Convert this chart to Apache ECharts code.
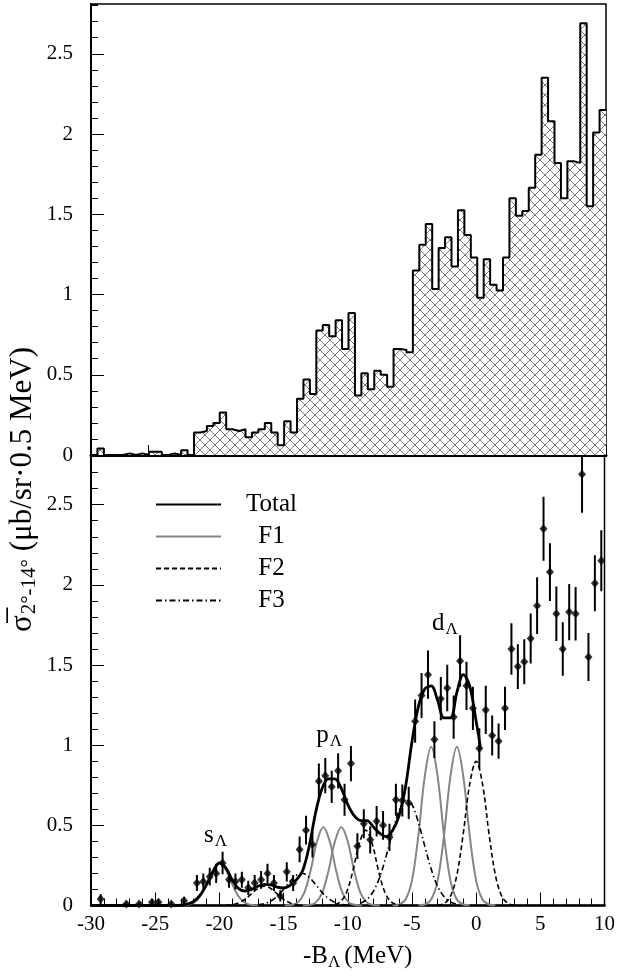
<!DOCTYPE html>
<html><head><meta charset="utf-8">
<script src="https://cdn.jsdelivr.net/npm/echarts@6/dist/echarts.min.js"></script>
<style>html,body{margin:0;padding:0;background:#fff}#c{width:618px;height:977px}</style>
</head><body><div id="c"></div>
<script>
// ---- data ----
const binCenters = [-29.75,-29.25,-28.75,-28.25,-27.75,-27.25,-26.75,-26.25,-25.75,-25.25,
 -24.75,-24.25,-23.75,-23.25,-22.75,-22.25,-21.75,-21.25,-20.75,-20.25,
 -19.75,-19.25,-18.75,-18.25,-17.75,-17.25,-16.75,-16.25,-15.75,-15.25,
 -14.75,-14.25,-13.75,-13.25,-12.75,-12.25,-11.75,-11.25,-10.75,-10.25,
 -9.75,-9.25,-8.75,-8.25,-7.75,-7.25,-6.75,-6.25,-5.75,-5.25,
 -4.75,-4.25,-3.75,-3.25,-2.75,-2.25,-1.75,-1.25,-0.75,-0.25,
 0.25,0.75,1.25,1.75,2.25,2.75,3.25,3.75,4.25,4.75,
 5.25,5.75,6.25,6.75,7.25,7.75,8.25,8.75,9.25,9.75];
const counts = [0,0.04,0,0,0,0.01,0,0.01,0,0.02,
 0.02,0,0.01,0,0.03,0,0.14,0.15,0.18,0.2,
 0.265,0.16,0.15,0.16,0.11,0.14,0.16,0.2,0.14,0.06,
 0.21,0.14,0.35,0.47,0.38,0.775,0.81,0.74,0.84,0.66,
 0.885,0.37,0.51,0.41,0.525,0.5,0.425,0.66,0.655,0.64,
 1.15,1.31,1.44,1.035,1.29,1.356,1.175,1.525,1.37,1.23,
 0.98,1.22,1.06,1.025,1.23,1.6,1.49,1.52,1.665,1.87,
 2.35,2.08,1.82,1.6,1.83,1.82,2.69,1.55,2.01,2.15];
const errors = [0,0.03,0,0,0,0.01,0,0.01,0,0.02,
 0.02,0,0.01,0,0.025,0,0.05,0.05,0.055,0.06,
 0.07,0.05,0.05,0.05,0.045,0.05,0.055,0.06,0.05,0.035,
 0.06,0.05,0.08,0.09,0.08,0.11,0.11,0.1,0.11,0.1,
 0.11,0.08,0.09,0.085,0.095,0.09,0.085,0.1,0.1,0.1,
 0.135,0.14,0.15,0.115,0.135,0.145,0.135,0.16,0.15,0.135,
 0.125,0.15,0.125,0.11,0.135,0.16,0.14,0.14,0.156,0.177,
 0.2,0.18,0.17,0.167,0.175,0.167,0.24,0.15,0.175,0.19];

const totalCurve = [[-30,0],[-24,0],[-23.5,0],[-23,0.002],[-22.5,0.008],[-22,0.025],[-21.5,0.065],[-21,0.13],
 [-20.5,0.21],[-20,0.265],[-19.5,0.235],[-19,0.16],[-18.5,0.105],[-18,0.09],[-17.5,0.1],[-17,0.12],
 [-16.5,0.132],[-16,0.128],[-15.5,0.115],[-15,0.11],[-14.5,0.125],[-14,0.16],[-13.5,0.22],[-13,0.37],
 [-12.5,0.58],[-12,0.73],[-11.5,0.79],[-11,0.79],[-10.5,0.73],[-10,0.63],[-9.5,0.56],[-9,0.53],
 [-8.5,0.53],[-8,0.49],[-7.5,0.45],[-7,0.43],[-6.5,0.47],[-6,0.56],[-5.5,0.74],[-5,1.02],
 [-4.5,1.24],[-4,1.35],[-3.5,1.37],[-3,1.28],[-2.5,1.17],[-2,1.17],[-1.5,1.33],[-1,1.44],
 [-0.5,1.37],[0,1.15],[0.35,0.98]];

// F1 components (grey): s, p1, p2, d1, d2
const f1S  = [[-23,0.001],[-22.5,0.003],[-22,0.017],[-21.5,0.056],[-21,0.133],[-20.5,0.223],[-20,0.265],[-19.5,0.223],[-19,0.133],[-18.5,0.056],[-18,0.017],[-17.5,0.003],[-17,0.001]];
const f1P1 = [[-14.9,0],[-14.4,0.003],[-13.9,0.018],[-13.4,0.077],[-12.9,0.216],[-12.4,0.399],[-11.9,0.49],[-11.4,0.399],[-10.9,0.216],[-10.4,0.077],[-9.9,0.018],[-9.4,0.003],[-8.9,0]];
const f1P2 = [[-13.5,0],[-13,0.003],[-12.5,0.018],[-12,0.077],[-11.5,0.216],[-11,0.399],[-10.5,0.49],[-10,0.399],[-9.5,0.216],[-9,0.077],[-8.5,0.018],[-8,0.003],[-7.5,0]];
const f1D1 = [[-6.5,0.001],[-6,0.006],[-5.5,0.037],[-5,0.155],[-4.5,0.436],[-4,0.806],[-3.5,0.99],[-3,0.806],[-2.5,0.436],[-2,0.155],[-1.5,0.037],[-1,0.006],[-0.5,0.001]];
const f1D2 = [[-4.5,0.001],[-4,0.006],[-3.5,0.037],[-3,0.155],[-2.5,0.436],[-2,0.806],[-1.5,0.99],[-1,0.806],[-0.5,0.436],[0,0.155],[0.5,0.037],[1,0.006],[1.5,0.001]];
// F2 components (dashed)
const f2A = [[-19.5,0.001],[-19,0.005],[-18.5,0.016],[-18,0.039],[-17.5,0.073],[-17,0.106],[-16.5,0.12],[-16,0.106],[-15.5,0.073],[-15,0.039],[-14.5,0.016],[-14,0.005],[-13.5,0.001]];
const f2B = [[-11.6,0],[-11.1,0.004],[-10.6,0.021],[-10.1,0.081],[-9.6,0.215],[-9.1,0.387],[-8.6,0.47],[-8.1,0.387],[-7.6,0.215],[-7.1,0.081],[-6.6,0.021],[-6.1,0.004],[-5.6,0]];
const f2C = [[-3,0.002],[-2.5,0.012],[-2,0.057],[-1.5,0.19],[-1,0.45],[-0.5,0.757],[0,0.9],[0.5,0.757],[1,0.45],[1.5,0.19],[2,0.057],[2.5,0.012],[3,0.002]];
// F3 components (dash-dot)
const f3A = [[-17,0.004],[-16.5,0.011],[-16,0.027],[-15.5,0.057],[-15,0.101],[-14.5,0.151],[-14,0.189],[-13.5,0.2],[-13,0.176],[-12.5,0.131],[-12,0.082],[-11.5,0.043],[-11,0.019],[-10.5,0.007],[-10,0.002]];
const f3B = [[-9,0.014],[-8.5,0.038],[-8,0.089],[-7.5,0.179],[-7,0.31],[-6.5,0.461],[-6,0.593],[-5.5,0.658],[-5,0.63],[-4.5,0.519],[-4,0.37],[-3.5,0.227],[-3,0.12],[-2.5,0.055],[-2,0.022],[-1.5,0.007]];

const xTickLabels = ['-30','-25','-20','-15','-10','-5','0','5','10'];
const peakLabels = [{t:'s', x:-21.2, y:0.38},{t:'p', x:-12.45, y:1.0},{t:'d', x:-3.44, y:1.70}];

// ---- build ----
const SERIF = 'Liberation Serif';
const chart = echarts.init(document.getElementById('c'));

const hatch = document.createElement('canvas');
hatch.width = 10; hatch.height = 10;
(function(){const g = hatch.getContext('2d'); g.fillStyle='#fff'; g.fillRect(0,0,10,10);
 g.strokeStyle='#6a6a6a'; g.lineWidth=0.9; g.beginPath();
 g.moveTo(0,0); g.lineTo(10,10); g.moveTo(10,0); g.lineTo(0,10); g.stroke();})();

const histData = binCenters.map((c,i)=>[c-0.25, counts[i]]);
histData.push([10, counts[counts.length-1]]);
const pts = [];
binCenters.forEach((c,i)=>{ if(counts[i]>0) pts.push([c, counts[i], errors[i]]); });

const black = '#000';
function yMajor(gi){return {gridIndex:gi, type:'value', min:0, max:2.81, interval:0.5, position:'left',
  axisLine:{show:true, onZero:false, lineStyle:{color:black,width:2}},
  axisTick:{show:true, inside:true, length:13, lineStyle:{color:black,width:1}},
  axisLabel:{showMaxLabel:false, fontFamily:SERIF, fontSize:21, color:black, margin:18},
  splitLine:{show:false}};}
function yMinor(gi){return {gridIndex:gi, type:'value', min:0, max:2.81, interval:0.1, position:'left', offset:0,
  axisLine:{show:false, onZero:false}, axisTick:{show:true, inside:true, length:7, lineStyle:{color:black,width:1}},
  axisLabel:{show:false}, splitLine:{show:false}};}

const grey = '#858585';
function comp(name, data, style){return {name, type:'line', xAxisIndex:1, yAxisIndex:2, data, smooth:0.35,
  symbol:'none', lineStyle:style, itemStyle:{color:style.color}, z:3, silent:true};}

const option = {
  animation:false,
  grid:[
    {left:91, right:12, top:4, height:451, show:true, borderColor:black, borderWidth:1.5, backgroundColor:'transparent'},
    {left:91, right:12, top:455, height:450.5, show:true, borderColor:black, borderWidth:1.5, backgroundColor:'transparent'}
  ],
  xAxis:[
    {gridIndex:0, type:'value', min:-30, max:10, interval:40/9, position:'bottom',
     axisLine:{onZero:false, lineStyle:{color:black,width:3}}, axisTick:{inside:true,length:10,lineStyle:{color:black,width:1}},
     axisLabel:{show:false}, splitLine:{show:false}},
    {gridIndex:1, type:'value', min:-30, max:10, interval:5, position:'bottom',
     axisLine:{onZero:false, lineStyle:{color:black,width:2.5}}, axisTick:{inside:true,length:13,lineStyle:{color:black,width:1}},
     minorTick:{show:true, splitNumber:5, length:7, lineStyle:{color:black,width:1}},
     axisLabel:{fontFamily:SERIF, fontSize:21, color:black, margin:8,
       formatter:(v)=>{const s=String(Math.round(v)); return xTickLabels.indexOf(s)>=0?s:'';}},
     splitLine:{show:false}}
  ],
  yAxis:[yMajor(0), yMinor(0), yMajor(1), yMinor(1)],
  legend:{data:['Total','F1','F2','F3'], orient:'vertical', left:150, top:487, itemWidth:65, itemHeight:14, itemGap:7,
    itemStyle:{opacity:0, borderWidth:0},
    textStyle:{fontFamily:SERIF, fontSize:25, color:black, lineHeight:25,
      rich:{c:{width:55, align:'center', fontFamily:SERIF, fontSize:25, padding:[0,0,0,18]}}},
    formatter:(n)=>'{c|'+n+'}', selectedMode:false},
  series:[
    {name:'hist', type:'line', xAxisIndex:0, yAxisIndex:0, data:histData, step:'end', symbol:'none',
     lineStyle:{color:black, width:2}, areaStyle:{color:{image:hatch, repeat:'repeat'}, opacity:1}, z:2},
    comp('F1', f1S, {color:grey, width:2}),
    comp('F1', f1P1, {color:grey, width:2}),
    comp('F1', f1P2, {color:grey, width:2}),
    comp('F1', f1D1, {color:grey, width:2}),
    comp('F1', f1D2, {color:grey, width:2}),
    comp('F2', f2A, {color:black, width:1.6, type:[5,3]}),
    comp('F2', f2B, {color:black, width:1.6, type:[5,3]}),
    comp('F2', f2C, {color:black, width:1.6, type:[5,3]}),
    comp('F3', f3A, {color:black, width:1.6, type:[6,3,1.5,3]}),
    comp('F3', f3B, {color:black, width:1.6, type:[6,3,1.5,3]}),
    {name:'Total', type:'line', xAxisIndex:1, yAxisIndex:2, data:totalCurve, smooth:0.35, symbol:'none',
     lineStyle:{color:black, width:2.8}, itemStyle:{color:black}, z:4, silent:true},
    {name:'err', type:'custom', xAxisIndex:1, yAxisIndex:2, data:pts, clip:true, z:5, silent:true,
     renderItem:(params, api)=>{
       const x=api.value(0), v=api.value(1), e=api.value(2);
       const a=api.coord([x, v-e]), b=api.coord([x, v+e]);
       return {type:'line', shape:{x1:a[0],y1:a[1],x2:b[0],y2:b[1]}, style:{stroke:black, lineWidth:2}};
     }},
    {name:'pts', type:'scatter', xAxisIndex:1, yAxisIndex:2, data:pts.map(p=>[p[0],p[1]]), symbol:'diamond',
     symbolSize:[8,9], itemStyle:{color:black}, z:6, silent:true}
  ]
};
chart.setOption(option);

const gfx = [];
peakLabels.forEach(p=>{
  const px = chart.convertToPixel({xAxisIndex:1, yAxisIndex:2}, [p.x, p.y]);
  gfx.push({type:'text', left:px[0], top:px[1]-22, style:{text:'{m|'+p.t+'}{s|Λ}',
    rich:{m:{fontFamily:SERIF, fontSize:25, fill:black}, s:{fontFamily:SERIF, fontSize:17, fill:black, padding:[12,0,0,1]}}}});
});
gfx.push({type:'text', left:303, top:944, style:{text:'{m|-B}{s|Λ}{g|(MeV)}',
  rich:{m:{fontFamily:SERIF, fontSize:25, fill:black}, s:{fontFamily:SERIF, fontSize:17, fill:black, padding:[12,0,0,0]},
        g:{fontFamily:SERIF, fontSize:25, fill:black, padding:[0,0,0,4]}}}});
gfx.push({type:'text', x:5, y:632, rotation:Math.PI/2, style:{text:'{m|σ\u0305}{s|2°-14°}{m| (μb/sr·0.5 MeV)}',
  rich:{m:{fontFamily:SERIF, fontSize:31, fill:black}, s:{fontFamily:SERIF, fontSize:21, fill:black, padding:[14,0,0,1]}}}});
chart.setOption({graphic:gfx});
</script></body></html>
